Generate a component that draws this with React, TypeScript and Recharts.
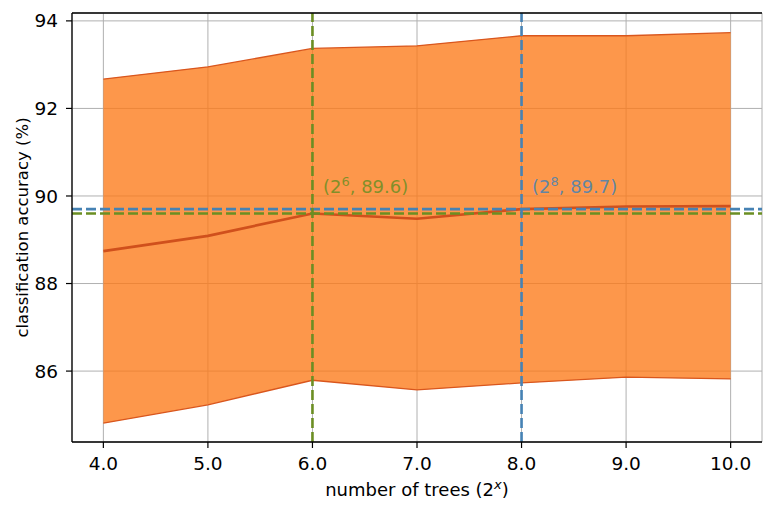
import React from "react";
import {
  ComposedChart,
  Area,
  Line,
  XAxis,
  YAxis,
  CartesianGrid,
  ReferenceLine,
  ReferenceDot,
} from "recharts";

// log2 of number of trees
const treeExps = [4, 5, 6, 7, 8, 9, 10];
const accUpper = [92.67, 92.95, 93.37, 93.43, 93.66, 93.66, 93.73];
const accMean = [88.74, 89.09, 89.6, 89.48, 89.7, 89.76, 89.77];
const accLower = [84.81, 85.23, 85.79, 85.57, 85.73, 85.86, 85.82];

const xTicks = [4, 5, 6, 7, 8, 9, 10];
const yTicks = [86, 88, 90, 92, 94];

// best points marked with dashed lines
const marks = [
  { exp: 6, acc: 89.6, color: "#6b8e23" },
  { exp: 8, acc: 89.7, color: "#4682b4" },
];

const data = treeExps.map((x, i) => ({
  x,
  band: [accLower[i], accUpper[i]],
  mean: accMean[i],
}));

const FONT = "DejaVu Sans, sans-serif";
const X_DOMAIN = [3.7, 10.3];
const Y_DOMAIN = [84.38, 94.18];

const XLabel = ({ viewBox }: any) => (
  <text
    x={viewBox.x + viewBox.width / 2}
    y={viewBox.y + 54}
    textAnchor="middle"
    fontFamily={FONT}
    fontSize={18}
    fill="#000"
  >
    <tspan>number of trees (2</tspan>
    <tspan dy={-7} fontSize={13} fontStyle="italic">x</tspan>
    <tspan dy={7}>)</tspan>
  </text>
);

const YLabel = ({ viewBox }: any) => {
  const cx = 28;
  const cy = viewBox.y + viewBox.height / 2;
  return (
    <text
      x={cx}
      y={cy}
      transform={`rotate(-90, ${cx}, ${cy})`}
      textAnchor="middle"
      fontFamily={FONT}
      fontSize={16.5}
      fill="#000"
    >
      classification accuracy (%)
    </text>
  );
};

const markLabel = (m: any) => (p: any) => (
  <text
    x={p.cx}
    y={p.cy - 3}
    fontFamily={FONT}
    fontSize={18}
    fill={m.color}
    fillOpacity={0.85}
  >
    <tspan>(2</tspan>
    <tspan dy={-7} fontSize={13}>{m.exp}</tspan>
    <tspan dy={7}>, {m.acc.toFixed(1)})</tspan>
  </text>
);

export default function App() {
  return (
    <div style={{ position: "absolute", left: 0, top: 0, background: "#fff" }}>
      <ComposedChart
        width={774}
        height={510}
        data={data}
        margin={{ top: 13, right: 12, left: 0, bottom: 0 }}
      >
        <CartesianGrid stroke="#b0b0b0" strokeWidth={1} />
        <XAxis
          dataKey="x"
          type="number"
          domain={X_DOMAIN}
          ticks={xTicks}
          allowDataOverflow
          tickFormatter={(v) => v.toFixed(1)}
          height={68}
          tickSize={6}
          tickMargin={9}
          axisLine={{ stroke: "#000", strokeWidth: 1.3 }}
          tickLine={{ stroke: "#000", strokeWidth: 1.2 }}
          tick={{ fill: "#000", fontSize: 18.5, fontFamily: FONT }}
          label={<XLabel />}
        />
        <YAxis
          type="number"
          domain={Y_DOMAIN}
          ticks={yTicks}
          allowDataOverflow
          width={72}
          tickSize={6}
          tickMargin={8}
          axisLine={{ stroke: "#000", strokeWidth: 1.3 }}
          tickLine={{ stroke: "#000", strokeWidth: 1.2 }}
          tick={{ fill: "#000", fontSize: 18.5, fontFamily: FONT }}
          label={<YLabel />}
        />
        <YAxis
          yAxisId="right"
          orientation="right"
          type="number"
          domain={Y_DOMAIN}
          width={0}
          tick={false}
          tickLine={false}
          axisLine={{ stroke: "#000", strokeWidth: 1.3 }}
        />
        <Area
          dataKey="band"
          type="linear"
          fill="#fc7a18"
          fillOpacity={0.78}
          stroke="#d9561d"
          strokeWidth={1.3}
          isAnimationActive={false}
        />
        <Line
          dataKey="mean"
          type="linear"
          stroke="#d0501c"
          strokeWidth={2.7}
          dot={false}
          isAnimationActive={false}
        />
        {marks.map((m) => (
          <ReferenceLine
            key={`h-${m.exp}`}
            y={m.acc}
            stroke={m.color}
            strokeWidth={2.6}
            strokeDasharray="10 4"
          />
        ))}
        {marks.map((m) => (
          <ReferenceLine
            key={`v-${m.exp}`}
            x={m.exp}
            stroke={m.color}
            strokeWidth={2.6}
            strokeDasharray="10 4"
          />
        ))}
        {marks.map((m) => (
          <ReferenceDot
            key={`t-${m.exp}`}
            x={m.exp + 0.1}
            y={90}
            r={0}
            shape={markLabel(m)}
          />
        ))}
        {/* top spine */}
        <ReferenceLine y={Y_DOMAIN[1]} stroke="#000" strokeWidth={1.3} />
      </ComposedChart>
    </div>
  );
}
